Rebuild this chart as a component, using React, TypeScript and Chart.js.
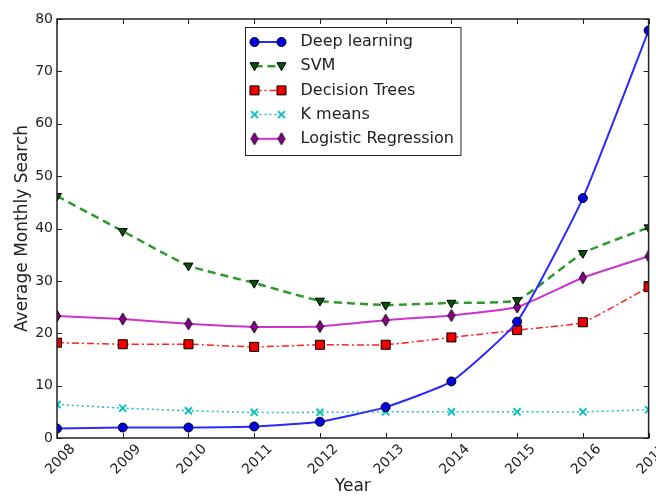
import React, { useEffect, useRef } from 'react';
import { Chart, registerables } from 'chart.js';
Chart.register(...registerables);

const years = ['2008', '2009', '2010', '2011', '2012', '2013', '2014', '2015', '2016', '2017'];
const deepLearning = [1.8, 2.0, 2.0, 2.2, 3.1, 5.9, 10.8, 22.2, 45.8, 77.8];
const svm = [46.2, 39.5, 32.9, 29.6, 26.2, 25.4, 25.8, 26.3, 35.3, 40.2];
const decisionTrees = [18.2, 17.9, 17.9, 17.4, 17.8, 17.8, 19.2, 20.6, 22.1, 28.8];
const kMeans = [6.4, 5.7, 5.2, 4.9, 4.9, 5.0, 5.0, 5.0, 5.0, 5.4];
const logisticRegression = [23.3, 22.7, 21.8, 21.2, 21.3, 22.5, 23.4, 25.0, 30.6, 34.7];
const seriesNames = ['Deep learning', 'SVM', 'Decision Trees', 'K means', 'Logistic Regression'];
const yTicks = [0, 10, 20, 30, 40, 50, 60, 70, 80];
const xTitle = 'Year';
const yTitle = 'Average Monthly Search';

const FONT = '"DejaVu Sans", Verdana, sans-serif';

function makeThinDiamond(fill: string): HTMLCanvasElement {
  const c = document.createElement('canvas');
  c.width = 10;
  c.height = 14;
  const g = c.getContext('2d')!;
  g.beginPath();
  g.moveTo(5, 1);
  g.lineTo(8.5, 7);
  g.lineTo(5, 13);
  g.lineTo(1.5, 7);
  g.closePath();
  g.fillStyle = fill;
  g.fill();
  g.strokeStyle = '#000';
  g.lineWidth = 1;
  g.stroke();
  return c;
}

type Kind = 'circle' | 'tri' | 'square' | 'x' | 'diamond';
const markerKinds: Kind[] = ['circle', 'tri', 'square', 'x', 'diamond'];

function drawMarker(ctx: CanvasRenderingContext2D, kind: Kind, x: number, y: number, fill: string, img?: HTMLCanvasElement) {
  ctx.save();
  ctx.setLineDash([]);
  ctx.strokeStyle = '#000';
  ctx.lineWidth = 1;
  ctx.fillStyle = fill;
  ctx.beginPath();
  if (kind === 'circle') {
    ctx.arc(x, y, 4.5, 0, Math.PI * 2);
    ctx.fill();
    ctx.stroke();
  } else if (kind === 'tri') {
    ctx.moveTo(x - 4.5, y - 3.5);
    ctx.lineTo(x + 4.5, y - 3.5);
    ctx.lineTo(x, y + 4.5);
    ctx.closePath();
    ctx.fill();
    ctx.stroke();
  } else if (kind === 'square') {
    ctx.rect(x - 4.5, y - 4.5, 9, 9);
    ctx.fill();
    ctx.stroke();
  } else if (kind === 'x') {
    ctx.strokeStyle = fill;
    ctx.lineWidth = 2;
    ctx.moveTo(x - 3.5, y - 3.5);
    ctx.lineTo(x + 3.5, y + 3.5);
    ctx.moveTo(x + 3.5, y - 3.5);
    ctx.lineTo(x - 3.5, y + 3.5);
    ctx.stroke();
  } else if (kind === 'diamond' && img) {
    ctx.drawImage(img, x - img.width / 2, y - img.height / 2);
  }
  ctx.restore();
}

export default function App() {
  const ref = useRef<HTMLCanvasElement | null>(null);

  useEffect(() => {
    document.body.style.margin = '0';
    const canvas = ref.current;
    if (!canvas) return;
    const diamondImg = makeThinDiamond('#8a008a');

    const lineColors = ['#2a2aff', '#2e9a2e', '#ff2020', '#20c0c0', '#cc33cc'];
    const markerFills = ['#0000e0', '#0a4f0a', '#ee0000', '#10c0c0', '#8a008a'];

    const framePlugin = {
      id: 'frame',
      afterDatasetsDraw(chart: any) {
        const { ctx, chartArea } = chart;
        const { left, right, top, bottom } = chartArea;
        const xs = chart.scales.x;
        const ys = chart.scales.y;
        ctx.save();
        ctx.setLineDash([]);
        ctx.strokeStyle = '#222';
        ctx.lineWidth = 1;
        ctx.beginPath();
        yTicks.forEach((v) => {
          const py = Math.round(ys.getPixelForValue(v)) + 0.5;
          ctx.moveTo(left, py);
          ctx.lineTo(left + 5, py);
          ctx.moveTo(right, py);
          ctx.lineTo(right - 5, py);
        });
        years.forEach((_, i) => {
          const px = Math.round(xs.getPixelForValue(i)) + 0.5;
          ctx.moveTo(px, bottom);
          ctx.lineTo(px, bottom - 5);
          ctx.moveTo(px, top);
          ctx.lineTo(px, top + 5);
        });
        ctx.stroke();
        ctx.lineWidth = 1.5;
        ctx.strokeRect(left, top, right - left, bottom - top);
        ctx.restore();
      },
      afterDraw(chart: any) {
        const { ctx, chartArea } = chart;
        ctx.save();
        ctx.font = '16px ' + FONT;
        const labels: string[] = chart.data.datasets.map((d: any) => d.label);
        const tw = Math.max(...labels.map((l) => ctx.measureText(l).width));
        const boxW = 9 + 27 + 19 + tw + 7;
        const rowH = 24.2;
        const boxH = labels.length * rowH + 7;
        const cx = (chartArea.left + chartArea.right) / 2;
        const bx = Math.round(cx - boxW / 2) + 0.5;
        const by = chartArea.top + 8.5;
        ctx.fillStyle = '#fff';
        ctx.fillRect(bx, by, boxW, boxH);
        ctx.strokeStyle = '#222';
        ctx.lineWidth = 1;
        ctx.setLineDash([]);
        ctx.strokeRect(bx, by, boxW, boxH);
        chart.data.datasets.forEach((ds: any, i: number) => {
          const y = by + 14.5 + i * rowH;
          const x1 = bx + 9;
          const x2 = x1 + 27;
          ctx.save();
          ctx.strokeStyle = ds.borderColor;
          ctx.lineWidth = ds.borderWidth;
          ctx.setLineDash(ds.borderDash || []);
          ctx.beginPath();
          ctx.moveTo(x1, y);
          ctx.lineTo(x2, y);
          ctx.stroke();
          ctx.restore();
          drawMarker(ctx, markerKinds[i], x1, y, markerFills[i], diamondImg);
          drawMarker(ctx, markerKinds[i], x2, y, markerFills[i], diamondImg);
          ctx.fillStyle = '#222';
          ctx.textBaseline = 'middle';
          ctx.textAlign = 'left';
          ctx.fillText(ds.label, x2 + 19, y);
        });
        ctx.restore();
      },
    };

    const common = {
      tension: 0.15,
      clip: 0,
      pointBorderColor: '#000',
      pointBorderWidth: 1,
    };

    const chart = new Chart(canvas, {
      type: 'line',
      data: {
        labels: years,
        datasets: [
          {
            ...common,
            label: seriesNames[0],
            data: deepLearning,
            borderColor: lineColors[0],
            borderWidth: 2,
            pointStyle: 'circle',
            pointRadius: 4.5,
            pointBackgroundColor: markerFills[0],
          },
          {
            ...common,
            label: seriesNames[1],
            data: svm,
            borderColor: lineColors[1],
            borderWidth: 2.5,
            borderDash: [8, 5],
            pointStyle: 'triangle',
            rotation: 180,
            pointRadius: 5.2,
            pointBackgroundColor: markerFills[1],
          },
          {
            ...common,
            label: seriesNames[2],
            data: decisionTrees,
            borderColor: lineColors[2],
            borderWidth: 1.5,
            borderDash: [7, 3, 2, 3],
            pointStyle: 'rect',
            pointRadius: 6.4,
            pointBackgroundColor: markerFills[2],
          },
          {
            ...common,
            label: seriesNames[3],
            data: kMeans,
            borderColor: lineColors[3],
            borderWidth: 1.5,
            borderDash: [2, 3],
            pointStyle: 'crossRot',
            pointRadius: 5,
            pointBorderColor: markerFills[3],
            pointBorderWidth: 2,
            pointBackgroundColor: markerFills[3],
          },
          {
            ...common,
            label: seriesNames[4],
            data: logisticRegression,
            borderColor: lineColors[4],
            borderWidth: 2,
            pointStyle: diamondImg,
            pointRadius: 5,
            pointBackgroundColor: markerFills[4],
          },
        ],
      },
      options: {
        animation: false,
        responsive: false,
        maintainAspectRatio: false,
        devicePixelRatio: 1,
        events: [],
        layout: { padding: { top: 19, right: 4, left: 0, bottom: 0 } },
        plugins: {
          legend: { display: false },
          tooltip: { enabled: false },
        },
        scales: {
          x: {
            type: 'category',
            offset: false,
            grid: { display: false, drawTicks: false },
            border: { display: false },
            ticks: {
              color: '#222',
              font: { family: FONT, size: 14 },
              minRotation: 45,
              maxRotation: 45,
              autoSkip: false,
              padding: 3,
              labelOffset: 16,
            },
            title: {
              display: true,
              text: xTitle,
              color: '#222',
              font: { family: FONT, size: 17 },
              padding: { top: 0, bottom: 0 },
            },
            afterFit(scale: any) {
              scale.height = 59;
              scale.paddingLeft = 0;
              scale.paddingRight = 0;
            },
          },
          y: {
            min: 0,
            max: 80,
            grid: { display: false, drawTicks: false },
            border: { display: false },
            afterBuildTicks(scale: any) {
              scale.ticks = yTicks.map((v) => ({ value: v }));
            },
            ticks: {
              color: '#222',
              font: { family: FONT, size: 14 },
              padding: 4,
            },
            title: {
              display: true,
              text: yTitle,
              color: '#222',
              font: { family: FONT, size: 17 },
              padding: { top: 12, bottom: 0 },
            },
            afterFit(scale: any) {
              scale.width = 57;
              scale.paddingTop = 0;
              scale.paddingBottom = 0;
            },
          },
        },
      },
      plugins: [framePlugin],
    });
    return () => chart.destroy();
  }, []);

  return (
    <div style={{ width: 656, height: 497, background: '#fff' }}>
      <canvas ref={ref} width={656} height={497} style={{ display: 'block' }} />
    </div>
  );
}
